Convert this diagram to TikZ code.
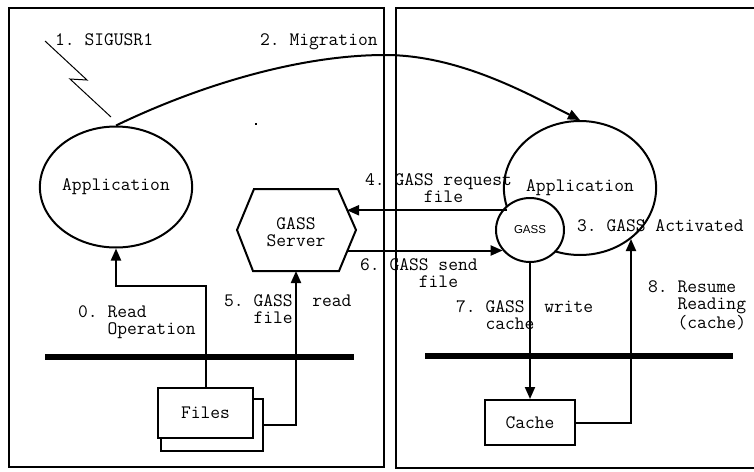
\documentclass[tikz,border=0pt]{standalone}
\usepackage{fontspec}
\newfontfamily\smallsans{Liberation Sans}
\usetikzlibrary{arrows.meta,shapes.geometric,calc}
\frenchspacing

\begin{document}
\begin{tikzpicture}[x=1pt,y=-1pt,
  txt/.style={font=\ttfamily\frenchspacing\fontsize{19}{17}\selectfont, inner sep=0pt, align=left},
  lab/.style={txt, anchor=base west},
  proc/.style={ellipse, draw, line width=2pt, fill=white, inner sep=0pt, txt},
  filebox/.style={rectangle, draw, line width=2pt, fill=white, inner sep=0pt, txt},
  arr/.style={line width=2pt, -{Triangle[length=12pt,width=10pt]}},
  host/.style={line width=2.4pt},
  disk/.style={line width=5.5pt}]

\clip (0,0) rectangle (754,471);
\fill[white] (0,0) rectangle (754,471);

% the two hosts
\draw[host] (9,8) rectangle (384,467);
\draw[host] (396,8) rectangle (770,468);

% local disks
\draw[disk] (45,357) -- (354,357);
\draw[disk] (425,356) -- (733,356);

% signal
\draw[line width=1pt] (45,41) -- (87,80) -- (70,79) -- (111,117);
\fill (254.5,123) rectangle (256.5,125);

% processes
\node[proc, minimum width=142pt, minimum height=121pt] (lapp) at (116,187) {Application};
\node[proc, minimum width=140pt, minimum height=134pt] (rapp) at (580,188) {Application};
\node[proc, minimum width=68pt, minimum height=64pt,
      font=\smallsans\fontsize{11.5}{12}\selectfont] (gass) at (530,230) {GASS};

% GASS server
\coordinate (hTL) at (254,189);
\coordinate (hTR) at (338,189);
\coordinate (hR)  at (356,230);
\coordinate (hBR) at (339,271);
\coordinate (hBL) at (253,271);
\coordinate (hL)  at (237,230);
\draw[line width=2pt, fill=white] (hTL) -- (hTR) -- (hR) -- (hBR) -- (hBL) -- (hL) -- cycle;
\node[txt, align=center] (srv) at (296,232) {GASS\\Server};
\coordinate (h4) at ($(hTR)!0.5!(hR)$);
\coordinate (h6) at ($(hR)!0.5!(hBR)$);
\coordinate (h5) at ($(hBL)!0.5!(hBR)$);

% files and cache
\node[filebox, minimum width=102pt, minimum height=52pt] (files2) at (212,425) {};
\node[filebox, minimum width=95pt, minimum height=50pt] (files) at (205.5,413) {Files};
\node[filebox, minimum width=90pt, minimum height=45pt] (cache) at (530,422.5) {Cache};

% connectors
\coordinate (mig) at (385,55);
\draw[arr] (lapp.north) .. controls (200,85) and (300,55) .. (mig)
           .. controls (460,55) and (530,95) .. (rapp.north);
\draw[arr] (files.north) -- ++(0,-101) -| (lapp.south);
\draw[arr] (files2.east) -| (h5);
\draw[arr] (rapp.197) -- (rapp.197 -| h4);
\draw[arr] (h6) -- (h6 -| gass.217);
\draw[arr] (gass.south) -- (cache.north);
\draw[arr] (cache.east) -| (rapp.-45);

% labels (anchored on the baseline of their last line)
\node[lab] at (55,45) {1. SIGUSR1};
\node[lab] at (260,45) {2. Migration};
\node[lab] at (577,231) {3. GASS Activated};
\node[lab] at (365,202) {4. GASS request\\\hphantom{xxxxxx}file};
\node[lab] at (360,287) {6. GASS send\\\hphantom{xxxxxx}file};
\node[lab] at (78,334) {0. Read\\\hphantom{xxx}Operation};
\node[lab] at (224,323) {5. GASS~ read\\\hphantom{xxx}file};
\node[lab] at (456,329) {7. GASS~ write\\\hphantom{xxx}cache};
\node[lab] at (648,328) {8. Resume\\\hphantom{xxx}Reading\\\hphantom{xxx}(cache)};
\end{tikzpicture}
\end{document}
